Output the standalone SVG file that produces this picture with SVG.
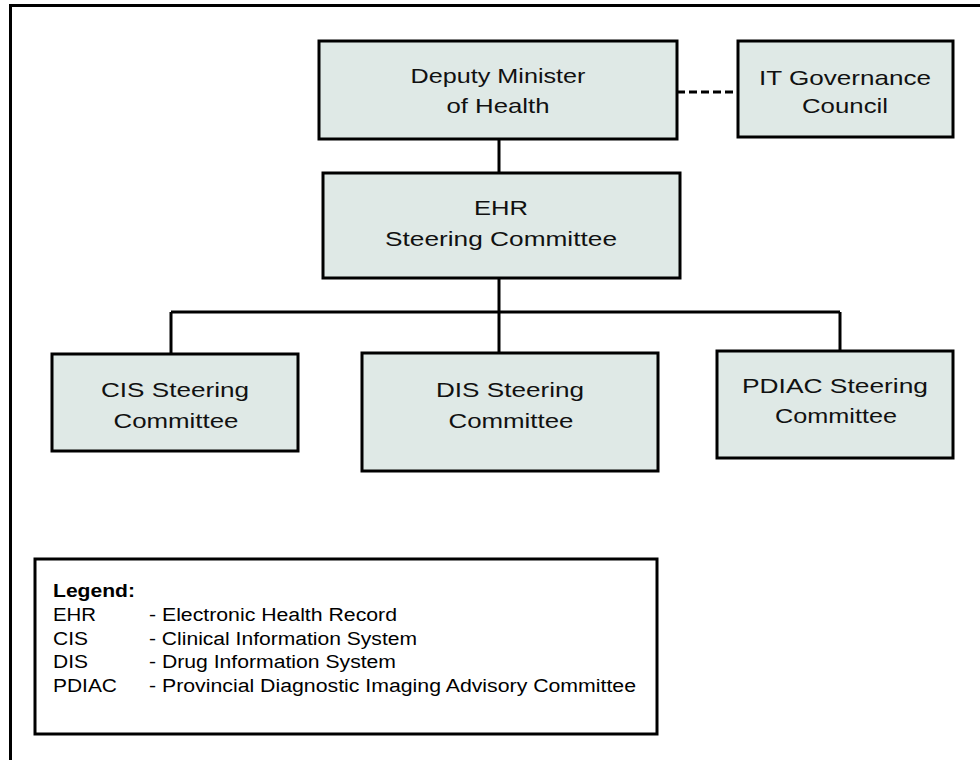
<svg xmlns="http://www.w3.org/2000/svg" width="980" height="760" viewBox="0 0 980 760">
<style>
.box{fill:#dfe9e6;stroke:#000;stroke-width:3}
.lg{fill:#fff;stroke:#000;stroke-width:3}
.ln{fill:none;stroke:#000;stroke-width:3}
.dash{fill:none;stroke:#000;stroke-width:3;stroke-dasharray:8 4}
.t{font-family:"Liberation Sans",Arial,sans-serif;font-size:21px;fill:#111;text-anchor:middle}
.l{font-family:"Liberation Sans",Arial,sans-serif;font-size:18px;fill:#000}
.b{font-weight:bold}
</style>
<rect width="980" height="760" fill="#fff"/>
<path class="ln" d="M10.5,760 V5.5 H980" stroke-width="2.7"/>
<g id="connectors">
<line class="dash" x1="677" y1="92" x2="738" y2="92"/>
<line class="ln" x1="499" y1="139" x2="499" y2="173"/>
<line class="ln" x1="499" y1="278" x2="499" y2="312"/>
<line class="ln" x1="171" y1="312" x2="840" y2="312"/>
<line class="ln" x1="171" y1="312" x2="171" y2="354"/>
<line class="ln" x1="499" y1="312" x2="499" y2="353"/>
<line class="ln" x1="840" y1="312" x2="840" y2="351"/>
</g>
<g id="deputy">
<rect class="box" x="319" y="41" width="358" height="98"/>
<text class="t" x="498" y="83" textLength="175" lengthAdjust="spacingAndGlyphs">Deputy Minister</text>
<text class="t" x="498" y="113" textLength="103" lengthAdjust="spacingAndGlyphs">of Health</text>
</g>
<g id="itgov">
<rect class="box" x="738" y="41" width="215" height="96"/>
<text class="t" x="845" y="85" textLength="172" lengthAdjust="spacingAndGlyphs">IT Governance</text>
<text class="t" x="845" y="113" textLength="86" lengthAdjust="spacingAndGlyphs">Council</text>
</g>
<g id="ehr">
<rect class="box" x="323" y="173" width="357" height="105"/>
<text class="t" x="501" y="215" textLength="54" lengthAdjust="spacingAndGlyphs">EHR</text>
<text class="t" x="501" y="246" textLength="232" lengthAdjust="spacingAndGlyphs">Steering Committee</text>
</g>
<g id="cis">
<rect class="box" x="52" y="354" width="246" height="97"/>
<text class="t" x="175" y="397" textLength="148" lengthAdjust="spacingAndGlyphs">CIS Steering</text>
<text class="t" x="176" y="428" textLength="125" lengthAdjust="spacingAndGlyphs">Committee</text>
</g>
<g id="dis">
<rect class="box" x="362" y="353" width="296" height="118"/>
<text class="t" x="510" y="397" textLength="148" lengthAdjust="spacingAndGlyphs">DIS Steering</text>
<text class="t" x="511" y="428" textLength="125" lengthAdjust="spacingAndGlyphs">Committee</text>
</g>
<g id="pdiac">
<rect class="box" x="717" y="351" width="236" height="107"/>
<text class="t" x="835" y="393" textLength="186" lengthAdjust="spacingAndGlyphs">PDIAC Steering</text>
<text class="t" x="836" y="423" textLength="122" lengthAdjust="spacingAndGlyphs">Committee</text>
</g>
<g id="legend">
<rect class="lg" x="35" y="559" width="622" height="175"/>
<text class="l b" x="53" y="597" textLength="82" lengthAdjust="spacingAndGlyphs">Legend:</text>
<text class="l" x="53" y="621" textLength="43" lengthAdjust="spacingAndGlyphs">EHR</text>
<text class="l" x="149" y="621" textLength="248" lengthAdjust="spacingAndGlyphs">- Electronic Health Record</text>
<text class="l" x="53" y="645" textLength="35" lengthAdjust="spacingAndGlyphs">CIS</text>
<text class="l" x="149" y="645" textLength="268" lengthAdjust="spacingAndGlyphs">- Clinical Information System</text>
<text class="l" x="53" y="668" textLength="35" lengthAdjust="spacingAndGlyphs">DIS</text>
<text class="l" x="149" y="668" textLength="247" lengthAdjust="spacingAndGlyphs">- Drug Information System</text>
<text class="l" x="53" y="692" textLength="64" lengthAdjust="spacingAndGlyphs">PDIAC</text>
<text class="l" x="149" y="692" textLength="487" lengthAdjust="spacingAndGlyphs">- Provincial Diagnostic Imaging Advisory Committee</text>
</g>
</svg>
